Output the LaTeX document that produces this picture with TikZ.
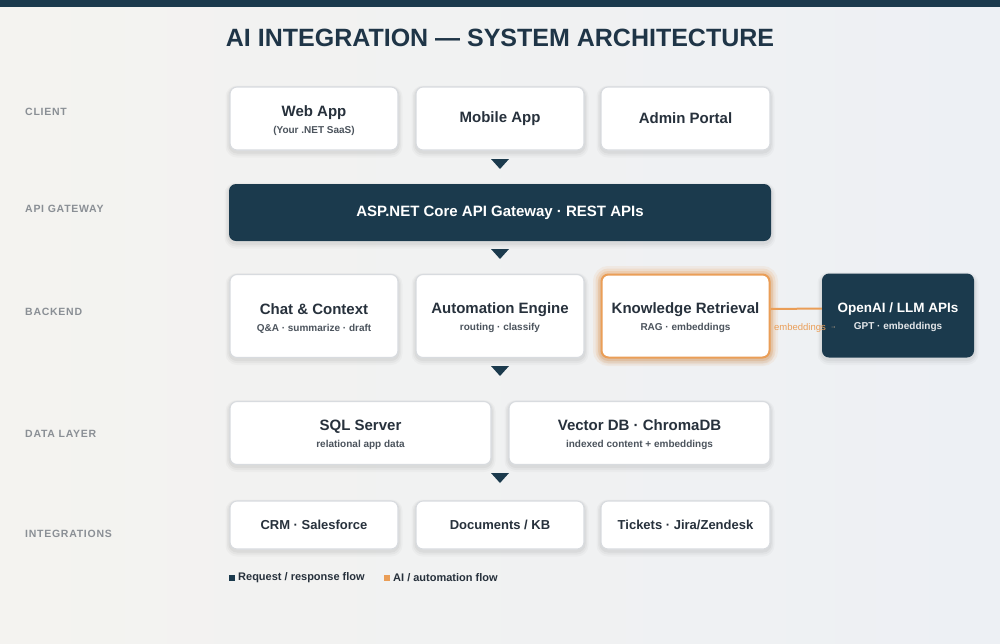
\documentclass[tikz,border=0pt]{standalone}
\usepackage{fontspec}
\setmainfont{Liberation Sans}
\usetikzlibrary{calc}
\definecolor{navy}{HTML}{1B3A4D}
\definecolor{titlec}{HTML}{1F3547}
\definecolor{cardtext}{HTML}{27313C}
\definecolor{subtext}{HTML}{4C545D}
\definecolor{rowlab}{HTML}{8A8F95}
\definecolor{cardline}{HTML}{D8DBDF}
\definecolor{accent}{HTML}{EA9E57}
\definecolor{bgl}{HTML}{F4F3F0}
\definecolor{bgr}{HTML}{EDF0F4}
\newcommand{\ctitle}[1]{{\fontsize{15}{18}\selectfont\bfseries\color{cardtext}#1}}
\newcommand{\ctop}[1]{{\fontsize{15}{18}\selectfont\bfseries\color{cardtext}\rule{0pt}{15pt}#1}}
\newcommand{\csub}[1]{{\fontsize{10}{12}\selectfont\bfseries\color{subtext}#1}}
\tikzset{
  softshadow/.style={
    preaction={draw=black, line width=9pt, draw opacity=0.025, transform canvas={yshift=-3pt}},
    preaction={draw=black, line width=6pt, draw opacity=0.03, transform canvas={yshift=-2.5pt}},
    preaction={draw=black, line width=3pt, draw opacity=0.04, transform canvas={yshift=-2pt}}},
  card/.style={softshadow, draw=cardline, line width=1.1pt, fill=white, rounded corners=7pt,
    inner sep=0pt, align=center},
  darkcard/.style={softshadow, draw=none, fill=navy, rounded corners=7pt, inner sep=0pt, align=center},
  glow/.style={
    preaction={draw=accent, line width=17pt, draw opacity=0.10},
    preaction={draw=accent, line width=12pt, draw opacity=0.16},
    preaction={draw=accent, line width=7pt, draw opacity=0.24}},
  rowlabel/.style={anchor=west, inner sep=0pt, text=rowlab,
    font=\fontsize{10.5}{12}\selectfont\bfseries\addfontfeatures{LetterSpace=7}},
  downtri/.pic={\fill[navy] (-9,-5) -- (9,-5) -- (0,5) -- cycle;},
  legtext/.style={anchor=west, inner sep=0pt, text=cardtext, font=\fontsize{11}{13}\selectfont\bfseries},
}
\begin{document}
\begin{tikzpicture}[x=1pt,y=-1pt]
\useasboundingbox (0,0) rectangle (1000,643);
\shade[left color=bgl, right color=bgr] (0,0) rectangle (1000,643);
\fill[navy] (0,0) rectangle (1000,7);

\node[inner sep=0pt, text=titlec, font=\fontsize{25}{30}\selectfont\bfseries] (title) at (500,37.5) {AI INTEGRATION — SYSTEM ARCHITECTURE};

% row labels
\node[rowlabel] (lclient) at (25,112) {CLIENT};
\node[rowlabel] (lgw) at (25,209) {API GATEWAY};
\node[rowlabel] (lbe) at (25,312) {BACKEND};
\node[rowlabel] (ldata) at (25,434) {DATA LAYER};
\node[rowlabel] (lint) at (25,534) {INTEGRATIONS};

% client
\node[card, minimum width=168, minimum height=63] (web) at (314,118.5) {\ctop{Web App}\\[5pt]\csub{(Your .NET SaaS)}};
\node[card, minimum width=168, minimum height=63] (mobile) at (500,118.5) {\ctitle{Mobile App}};
\node[card, minimum width=169, minimum height=63] (admin) at (685.5,118.5) {\ctitle{Admin Portal}};

\pic at (500,164) {downtri};

% gateway
\node[darkcard, minimum width=542, minimum height=57, text=white,
  font=\fontsize{15}{18}\selectfont\bfseries] (gw) at (500,212.5) {ASP.NET Core API Gateway · REST APIs};

\pic at (500,254) {downtri};

% backend
\node[card, minimum width=168, minimum height=83] (chat) at (314,316) {\ctop{Chat \& Context}\\[5pt]\csub{Q\&A · summarize · draft}};
\node[card, minimum width=168, minimum height=83] (auto) at (500,316) {\ctop{Automation Engine}\\[5pt]\csub{routing · classify}};
\node[card, glow, draw=accent, line width=2pt, minimum width=168, minimum height=83] (kr) at (685.5,316) {\ctop{Knowledge Retrieval}\\[5pt]\csub{RAG · embeddings}};
\node[darkcard, minimum width=152, minimum height=84] (oa) at (898,315.5) {{\fontsize{13.5}{16}\selectfont\bfseries\color{white}\rule{0pt}{14pt}OpenAI / LLM APIs}\\[5pt]{\fontsize{10}{12}\selectfont\bfseries\color{white!88!navy}GPT · embeddings}};

\draw[accent, line width=2pt] ([yshift=7pt]kr.east) -- ([yshift=7pt]oa.west);
\node[inner sep=0pt, text=accent, font=\fontsize{9.5}{11}\selectfont] (emb) at (800,328) {embeddings};
\node[inner sep=0pt, text=accent!60!white, font=\fontsize{6}{7}\selectfont, anchor=west] (emba) at ([xshift=4pt]emb.east) {→};

\pic at (500,371) {downtri};

% data layer
\node[card, minimum width=261, minimum height=63] (sql) at (360.5,433) {\ctop{SQL Server}\\[5pt]\csub{relational app data}};
\node[card, minimum width=261, minimum height=63] (vec) at (639.5,433) {\ctop{Vector DB · ChromaDB}\\[5pt]\csub{indexed content + embeddings}};

\pic at (500,478) {downtri};

% integrations
\node[card, minimum width=168, minimum height=48, font=\fontsize{13}{15}\selectfont\bfseries, text=cardtext] (crm) at (314,525) {CRM · Salesforce};
\node[card, minimum width=168, minimum height=48, font=\fontsize{13}{15}\selectfont\bfseries, text=cardtext] (docs) at (500,525) {Documents / KB};
\node[card, minimum width=169, minimum height=48, font=\fontsize{13}{15}\selectfont\bfseries, text=cardtext] (tickets) at (685.5,525) {Tickets · Jira/Zendesk};

% legend
\node[fill=navy, minimum size=6pt, inner sep=0pt] (sq1) at (232,577.5) {};
\node[legtext] (leg1) at (238,577.5) {Request / response flow};
\node[fill=accent, minimum size=6pt, inner sep=0pt] (sq2) at (387,577.5) {};
\node[legtext] (leg2) at (393,577.5) {AI / automation flow};
\end{tikzpicture}
\end{document}
